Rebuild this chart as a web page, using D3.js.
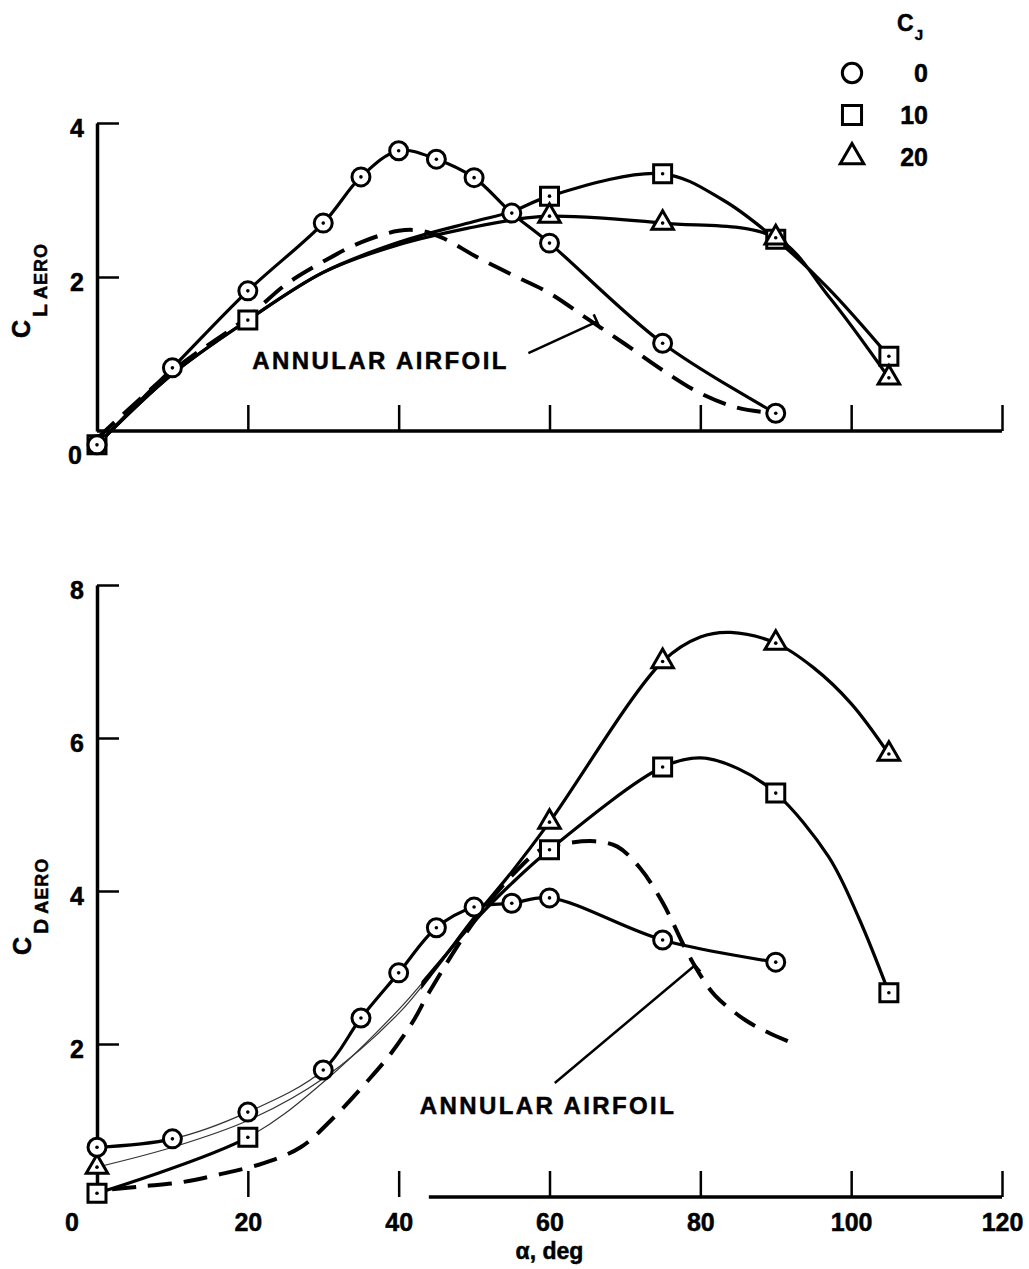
<!DOCTYPE html>
<html>
<head>
<meta charset="utf-8">
<script src="https://cdn.jsdelivr.net/npm/d3@7"></script>
<style>
  body { margin: 0; background: #fff; }
  svg { display: block; background: #fff; }
  text { stroke: #000; stroke-width: 0.5px; }
</style>
</head>
<body>
<svg id="chart" width="1029" height="1269"></svg>
<script>
// angle of attack ticks and value ticks
const alphaTicks = [20, 40, 60, 80, 100, 120];
const liftTicks = [0, 2, 4];
const dragTicks = [0, 2, 4, 6, 8];
const cjLevels = ["0", "10", "20"];

// test points, [alpha deg, coefficient]
const liftCj0 = [[0, -0.18], [10, 0.82], [20, 1.82], [30, 2.70], [35, 3.30], [40, 3.64], [45, 3.53], [50, 3.29], [55, 2.83], [60, 2.44], [75, 1.14], [90, 0.23]];
const liftCj10 = [[0, -0.18], [20, 1.44], [60, 3.05], [75, 3.34], [90, 2.49], [105, 0.97]];
const liftCj20 = [[60, 2.79], [75, 2.70], [90, 2.51], [105, 0.69]];

const dragCj0 = [[0, 0.65], [10, 0.76], [20, 1.11], [30, 1.66], [35, 2.34], [40, 2.93], [45, 3.52], [50, 3.79], [55, 3.84], [60, 3.91], [75, 3.36], [90, 3.07]];
const dragCj10 = [[0, 0.05], [20, 0.78], [60, 4.54], [75, 5.62], [90, 5.28], [105, 2.67]];
const dragCj20 = [[0, 0.39], [60, 4.90], [75, 7.00], [90, 7.24], [105, 5.79]];

// faired curves drawn through the points
const liftCurveCj10 = [[0, -0.18], [10, 0.74], [20, 1.44], [30, 2.06], [40, 2.45], [50, 2.72], [55, 2.85], [60, 3.05], [75, 3.34], [83, 3.0], [90, 2.49], [97, 1.85], [105, 0.97]];
const liftCurveCj20 = [[0, -0.18], [10, 0.74], [20, 1.44], [30, 2.06], [40, 2.42], [50, 2.65], [55, 2.74], [60, 2.79], [75, 2.70], [90, 2.51], [97, 1.75], [105, 0.69]];
const liftAnnular = [[0, -0.1], [10, 0.78], [20, 1.48], [25, 1.9], [30, 2.2], [35, 2.45], [40, 2.6], [43, 2.6], [46, 2.5], [50, 2.28], [55, 2.03], [60, 1.79], [65, 1.46], [70, 1.13], [75, 0.79], [80, 0.49], [85, 0.3], [89, 0.24]];

const dragCurveCj10 = [[0, 0.05], [20, 0.78], [30, 1.5], [40, 2.45], [45, 3.02], [50, 3.6], [55, 4.1], [60, 4.54], [75, 5.62], [80, 5.74], [85, 5.6], [90, 5.28], [97, 4.45], [101, 3.65], [105, 2.67]];
const dragCurveCj20 = [[0, 0.39], [10, 0.65], [20, 1.0], [30, 1.55], [40, 2.4], [45, 3.0], [50, 3.65], [55, 4.25], [60, 4.9], [75, 7.0], [80, 7.32], [84, 7.38], [90, 7.24], [95, 6.92], [100, 6.45], [105, 5.79]];
const dragAnnular = [[2, 0.1], [6, 0.14], [11, 0.19], [16, 0.29], [22, 0.44], [27, 0.65], [31, 1.0], [36, 1.53], [39, 1.88], [42, 2.31], [44, 2.67], [50, 3.6], [55, 4.2], [59, 4.55], [62, 4.62], [66, 4.65], [69, 4.58], [72, 4.3], [75, 3.85], [78, 3.25], [80, 2.9], [82, 2.63], [86, 2.31], [89, 2.15], [92, 2.02]];

// leader lines for the "ANNULAR AIRFOIL" notes
const liftLeader = [[57.2, 1.01], [66.3, 1.42]];
const dragLeader = [[60.7, 1.49], [79.3, 3.03]];

const FONT = '"Liberation Sans", Arial, Helvetica, sans-serif';
const svg = d3.select("#chart");

const x = d3.scaleLinear().domain([0, 120]).range([97, 1002]);
const yLift = d3.scaleLinear().domain([0, 4]).range([431, 123]);
const yDrag = d3.scaleLinear().domain([0, 8]).range([1197, 585]);

const symbols = [d3.symbolCircle, d3.symbolSquare, d3.symbolTriangle];
const symbolSize = [254, 324, 200];

let clipId = 0;

function drawAxes(y, yTicks, showAlphaLabels, lineFrom, zeroLabel) {
  const yAxis = svg.append("g")
    .attr("transform", `translate(${x(0)},0)`)
    .call(d3.axisLeft(y).tickValues(yTicks).tickSize(-22).tickSizeOuter(0).tickPadding(13).tickFormat(d3.format("d")));
  yAxis.attr("font-family", FONT).attr("font-size", 25).attr("font-weight", "bold");
  yAxis.select(".domain").attr("stroke-width", 3.5);
  yAxis.selectAll(".tick line").attr("stroke-width", 2.5).filter(d => d === 0).remove();
  yAxis.selectAll(".tick text").attr("dy", "0.55em");
  yAxis.selectAll(".tick text").filter(d => d === 0)
    .attr("x", zeroLabel[0]).attr("dy", null).attr("y", zeroLabel[1]);

  const xAxis = svg.append("g")
    .attr("transform", `translate(0,${y(0)})`)
    .call(d3.axisBottom(x).tickValues(alphaTicks).tickSize(-26).tickSizeOuter(0).tickPadding(16)
      .tickFormat(showAlphaLabels ? d3.format("d") : ""));
  xAxis.attr("font-family", FONT).attr("font-size", 25).attr("font-weight", "bold");
  xAxis.selectAll(".tick line").attr("stroke-width", 2.5);
  xAxis.select(".domain").remove();
  svg.append("line")
    .attr("x1", x(lineFrom)).attr("x2", x(120))
    .attr("y1", y(0)).attr("y2", y(0))
    .attr("stroke", "#000").attr("stroke-width", 3.5);
}

function drawCurve(data, y, opts = {}) {
  const line = d3.line()
    .x(d => x(d[0])).y(d => y(d[1]))
    .curve(d3.curveCatmullRom.alpha(0.5));
  if (opts.thin) {
    // faint stretch of the original trace
    svg.append("path").datum(data).attr("d", line)
      .attr("fill", "none").attr("stroke", "#333").attr("stroke-width", 1.2);
    const id = "clip" + (clipId++);
    const cp = svg.append("clipPath").attr("id", id);
    cp.append("rect").attr("x", 0).attr("y", 0).attr("width", x(opts.thin[0])).attr("height", 1269);
    cp.append("rect").attr("x", x(opts.thin[1])).attr("y", 0).attr("width", 1029).attr("height", 1269);
    svg.append("path").datum(data).attr("d", line).attr("clip-path", `url(#${id})`)
      .attr("fill", "none").attr("stroke", "#000").attr("stroke-width", 3.2).attr("stroke-linejoin", "round");
    return;
  }
  svg.append("path").datum(data).attr("d", line)
    .attr("fill", "none").attr("stroke", "#000")
    .attr("stroke-width", opts.dashed ? 4 : 3.2)
    .attr("stroke-dasharray", opts.dashed ? "24,12" : null)
    .attr("stroke-linejoin", "round");
}

function drawMarkers(data, y, kind) {
  const g = svg.append("g").selectAll("g").data(data).join("g")
    .attr("transform", d => `translate(${x(d[0])},${y(d[1])})`);
  g.append("path")
    .attr("d", d3.symbol(symbols[kind], symbolSize[kind]))
    .attr("fill", "#fff").attr("stroke", "#000").attr("stroke-width", 3);
  g.append("circle").attr("r", 1.8).attr("fill", "#000");
}

function drawNote(leader, y, textAt, anchor) {
  const p0 = [x(leader[0][0]), y(leader[0][1])];
  const p1 = [x(leader[1][0]), y(leader[1][1])];
  svg.append("line").attr("x1", p0[0]).attr("y1", p0[1]).attr("x2", p1[0]).attr("y2", p1[1])
    .attr("stroke", "#000").attr("stroke-width", 2.5);
  const dx = p1[0] - p0[0], dy = p1[1] - p0[1], len = Math.hypot(dx, dy);
  const nx = -dy / len * 8, ny = dx / len * 8;
  svg.append("line").attr("x1", p1[0] - nx).attr("y1", p1[1] - ny).attr("x2", p1[0] + nx).attr("y2", p1[1] + ny)
    .attr("stroke", "#000").attr("stroke-width", 2.5);
  svg.append("text")
    .attr("x", x(textAt[0])).attr("y", y(textAt[1]))
    .attr("text-anchor", anchor)
    .attr("font-family", FONT).attr("font-weight", "bold").attr("font-size", 24)
    .attr("letter-spacing", 2.4)
    .text("ANNULAR AIRFOIL");
}

function yTitle(xb, yStart, sub) {
  const t = svg.append("text")
    .attr("transform", `translate(${xb},${yStart}) rotate(-90)`)
    .attr("font-family", FONT).attr("font-weight", "bold");
  t.append("tspan").attr("font-size", 25).text("C");
  t.append("tspan").attr("font-size", 21).attr("dx", 3).attr("dy", 17).text(sub);
  t.append("tspan").attr("font-size", 18).attr("dx", 5).attr("letter-spacing", 1).text("AERO");
}

// ---- lift panel ----
drawAxes(yLift, liftTicks, false, 0, [-15, 32]);
drawCurve(liftAnnular, yLift, { dashed: true });
drawCurve(liftCj0, yLift);
drawCurve(liftCurveCj10, yLift);
drawCurve(liftCurveCj20, yLift);
drawMarkers(liftCj10, yLift, 1);
drawMarkers(liftCj20, yLift, 2);
drawMarkers(liftCj0, yLift, 0);
drawNote(liftLeader, yLift, [20.6, 0.8], "start");
yTitle(30, 338, "L");

// ---- drag panel ----
drawAxes(yDrag, dragTicks, true, 44, [-18, 33]);
drawCurve(dragAnnular, yDrag, { dashed: true });
drawCurve(dragCj0, yDrag, { thin: [10, 29] });
drawCurve(dragCurveCj10, yDrag, { thin: [21, 43] });
drawCurve(dragCurveCj20, yDrag, { thin: [0, 43] });
drawMarkers(dragCj10, yDrag, 1);
drawMarkers(dragCj20, yDrag, 2);
drawMarkers(dragCj0, yDrag, 0);
drawNote(dragLeader, yDrag, [42.8, 1.08], "start");
yTitle(31, 955, "D");

svg.append("text")
  .attr("x", x(60)).attr("y", 1259)
  .attr("text-anchor", "middle")
  .attr("font-family", FONT).attr("font-weight", "bold").attr("font-size", 23)
  .text("α, deg");

// ---- legend ----
const legendY = d3.scaleLinear().domain([0, cjLevels.length - 1]).range([73, 157]);
const cj = svg.append("text").attr("x", 897).attr("y", 31)
  .attr("font-family", FONT).attr("font-weight", "bold");
cj.append("tspan").attr("font-size", 23).text("C");
cj.append("tspan").attr("font-size", 15).attr("dx", 1).attr("dy", 9).text("J");

const rows = svg.append("g").selectAll("g").data(cjLevels).join("g")
  .attr("transform", (d, i) => `translate(0,${legendY(i)})`);
rows.append("path")
  .attr("transform", "translate(852,0)")
  .attr("d", (d, i) => d3.symbol(symbols[i], symbolSize[i] + 40)())
  .attr("fill", "#fff").attr("stroke", "#000").attr("stroke-width", 3);
rows.append("text")
  .attr("x", 928).attr("dy", "0.36em")
  .attr("text-anchor", "end")
  .attr("font-family", FONT).attr("font-weight", "bold").attr("font-size", 25)
  .text(d => d);
</script>
</body>
</html>
